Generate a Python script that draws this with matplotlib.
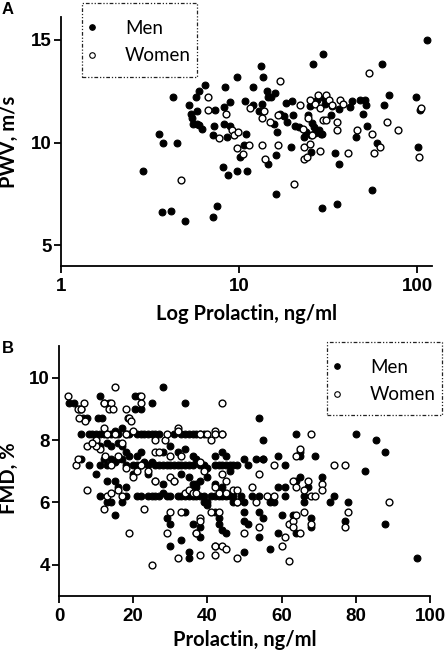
import matplotlib
matplotlib.use('Agg')
import matplotlib.pyplot as plt
from matplotlib.lines import Line2D
from matplotlib.patches import Rectangle

# ---------------- Panel A data (PWV vs prolactin, log x) ----------------
a_men_x = [2.88, 3.57, 3.76, 3.68, 4.13, 4.24, 4.47, 4.97, 5.26, 5.35, 5.42, 5.54, 5.73, 5.83,
           5.98, 5.83, 5.98, 6.17, 6.44, 7.11, 7.17, 7.24, 7.33, 7.55, 8.09, 8.24, 8.27, 8.34,
           8.53, 8.71, 8.83, 8.90, 9.70, 9.79, 10.1, 10.7, 10.8, 10.95, 11.1, 11.9, 12.0, 13.0,
           13.3, 13.6, 13.4, 14.3, 14.6, 15.1, 15.9, 15.7, 16.1, 16.1, 16.4, 14.6, 17.0, 17.9,
           18.4, 18.5, 19.5, 19.8, 20.0, 20.6, 21.6, 23.2, 23.6, 24.5, 24.9, 25.3, 25.3, 25.9,
           25.6, 26.2, 26.7, 27.3, 27.9, 28.8, 29.1, 29.5, 29.3, 30.0, 30.4, 32.7, 33.2, 34.6,
           35.4, 36.2, 36.6, 41.7, 43.0, 45.4, 47.8, 49.9, 51.0, 51.7, 52.1, 55.6, 59.3, 63.3,
           64.7, 69.0, 98.7, 100.4, 104.0, 114.0]
a_men_y = [8.61, 10.40, 10.0, 6.60, 6.68, 12.2, 10.0, 6.2, 11.8, 11.4, 11.17, 10.92, 12.2, 11.52,
           12.5, 10.92, 10.84, 10.68, 12.78, 6.39, 10.36, 10.79, 11.57, 6.91, 8.79, 10.92, 11.73, 12.69,
           10.28, 8.41, 11.97, 10.79, 13.19, 8.61, 9.3, 9.87, 12.02, 10.4, 8.61, 12.7, 11.8, 11.52,
           13.7, 13.19, 11.89, 12.5, 12.2, 12.2, 12.4, 10.89, 9.39, 7.49, 10.52, 8.98, 11.4, 11.28,
           11.93, 11.0, 9.79, 12.02, 11.33, 10.79, 10.76, 10.28, 10.52, 11.33, 11.76, 10.36, 9.55, 13.8,
           10.95, 10.76, 10.47, 12.06, 10.6, 10.4, 10.4, 14.3, 6.8, 12.18, 11.86, 11.33, 11.76, 9.5,
           7.0, 8.98, 11.65, 11.73, 12.02, 10.28, 12.06, 11.4, 12.09, 11.81, 10.79, 7.69, 10.0, 13.8,
           11.8, 12.3, 12.2, 9.79, 11.6, 15.0]
a_women_x = [4.72, 6.73, 6.73, 7.73, 8.45, 9.09, 9.30, 9.91, 9.79, 10.5, 11.3, 11.5, 13.4, 13.8,
             13.4, 14.0, 14.9, 16.6, 16.6, 17.0, 20.2, 22.0, 22.8, 23.0, 23.2, 24.0, 24.5, 24.9,
             25.1, 25.6, 26.7, 27.6, 28.3, 28.5, 29.5, 30.8, 30.8, 31.8, 33.2, 35.4, 35.4, 36.9,
             38.2, 41.1, 45.8, 53.3, 55.6, 57.3, 61.4, 67.6, 77.6, 101.7, 104.9]
a_women_y = [8.2, 12.2, 11.6, 10.21, 11.4, 10.6, 10.36, 10.52, 9.71, 9.42, 9.87, 11.7, 11.17, 11.52,
             9.9, 9.22, 11.0, 11.33, 9.9, 13.0, 8.0, 11.81, 10.68, 9.79, 9.22, 9.3, 11.21, 12.09,
             9.95, 10.36, 11.89, 12.33, 9.6, 11.7, 11.08, 12.33, 11.08, 12.06, 11.81, 11.0, 10.6, 12.06,
             11.86, 9.5, 10.6, 13.4, 10.4, 9.5, 9.79, 11.0, 10.6, 9.3, 11.7]

# ---------------- Panel B data (FMD vs prolactin) ----------------
b_men_x = [2.8, 4.0, 5.5, 6.0, 6.6, 7.5, 10.5, 11.5, 11.0, 12.0, 13.5, 20.5, 21.5, 20.5, 22.0, 25.0, 28.0, 34.0,
           6, 8, 9, 10, 11, 12, 13, 14, 15, 16, 17, 18, 19, 21, 22, 23, 24, 25, 26, 27, 31, 33, 34, 35, 36, 37, 38, 39, 44,
           10, 11, 13, 14, 16, 17, 18, 19, 21, 22, 23, 25, 28, 30, 32, 34, 36, 37, 42, 44, 45,
           6, 8, 11, 12, 13, 14, 15, 16, 17, 18, 20, 21, 22, 24, 26, 27, 28, 29, 30, 31, 32, 33, 34, 35, 36, 38, 39, 40,
           42, 43, 44, 45, 46, 47, 48, 50, 51, 53, 55,
           10, 13, 15, 16, 18, 20, 24, 26, 28, 31, 33, 35, 37, 38, 40, 42, 44,
           11, 13, 14, 17, 18, 21, 22, 24, 25, 26, 27, 28, 29, 30, 32, 33, 34, 35, 36, 37, 38, 39, 40, 41, 42, 43, 44, 45,
           46, 47, 49, 50, 52, 54, 57,
           15, 29, 30, 34, 36, 37, 38, 35, 35, 30, 33, 42, 43, 44, 45, 42, 43, 50, 50, 51, 50, 54, 55, 54, 57, 59, 60,
           61, 61, 59, 59, 61, 58, 55, 54, 55, 63, 64, 64, 65, 66, 66, 67, 68, 68, 64, 65, 65, 69, 71, 73, 74, 77, 78,
           80, 82.5, 85.5, 88, 88, 96.5, 48, 46, 47, 38, 39, 40, 36, 37]
b_men_y = [9.2, 9.2, 9.0, 9.0, 8.7, 8.7, 8.7, 8.7, 9.4, 9.2, 9.2, 9.4, 9.4, 9.0, 9.0, 9.2, 9.7, 9.2,
           8.2, 8.2, 8.2, 8.2, 8.2, 8.2, 8.2, 8.2, 8.3, 8.2, 8.4, 8.2, 8.2, 8.2, 8.2, 8.2, 8.2, 8.2, 8.2, 8.2, 8.2, 8.2, 8.2, 8.2, 8.2, 8.2, 8.2, 8.2, 8.2,
           7.9, 7.8, 7.9, 7.8, 7.9, 7.8, 7.6, 7.5, 7.5, 7.6, 7.3, 7.3, 7.6, 7.8, 7.6, 7.7, 7.5, 7.4, 7.5, 7.6, 7.5,
           7.4, 7.2, 7.2, 7.4, 7.2, 7.4, 7.3, 7.4, 7.4, 7.2, 7.2, 7.2, 7.2, 7.2, 7.2, 7.2, 7.2, 7.2, 7.2, 7.2, 7.2, 7.2, 7.2, 7.2, 7.2, 7.2, 7.2, 7.1,
           7.2, 7.2, 7.2, 7.2, 7.2, 7.2, 7.2, 7.4, 7.2, 7.4, 7.4,
           6.9, 6.7, 6.7, 6.5, 6.5, 6.9, 6.9, 6.7, 6.6, 6.7, 6.9, 6.8, 6.6, 6.7, 6.8, 6.6, 6.5,
           6.2, 6.0, 6.0, 6.0, 6.2, 6.2, 6.2, 6.2, 6.2, 6.2, 6.2, 6.3, 6.2, 6.2, 6.2, 6.2, 6.2, 6.2, 6.2, 6.2, 6.2, 6.2, 6.0, 6.2, 6.2, 6.2, 6.2, 6.2,
           6.2, 6.0, 6.2, 6.0, 6.2, 6.2, 6.0,
           5.6, 5.5, 5.3, 5.7, 5.3, 5.0, 4.9, 4.4, 4.2, 4.6, 4.8, 4.6, 5.3, 5.1, 5.0, 5.7, 5.5, 5.7, 5.4, 5.3, 4.4, 5.7, 5.5, 4.9, 4.5, 5.0, 5.6,
           6.5, 6.2, 6.5, 7.5, 7.2, 6.0, 8.0, 8.7, 7.4, 5.6, 5.0, 6.7, 6.8, 6.0, 6.2, 6.5, 5.2, 5.5, 8.2, 7.5, 7.6, 7.5, 6.8, 6.0, 6.2, 5.4, 6.0,
           8.2, 7.0, 8.0, 7.6, 5.3, 4.2, 6.0, 7.0, 6.2, 5.2, 6.0, 5.9, 6.6, 6.5]
b_women_x = [2.3, 5.0, 6.0, 6.8, 5.5, 7.0, 4.5, 5.0, 7.5, 7.5, 12, 14, 13.5, 14.5, 15, 12, 13, 15, 18, 18.5,
             19, 20, 19.5, 22, 22, 12, 13, 14, 17, 19, 21, 20, 18, 14, 16, 11, 12.5, 18, 17, 23,
             24, 25, 26, 26, 27, 28.5, 29, 30, 30, 31, 30, 29, 32, 32, 32, 33, 33, 34, 35, 36,
             37, 37, 38, 38, 38, 38, 38, 39, 40, 41, 41, 42, 42, 42, 42, 42, 43, 43, 44, 44,
             44, 44, 45, 45, 45, 47, 48, 48, 48, 50, 52, 53, 54, 54, 56, 58, 58, 60, 61, 62,
             62, 63, 63, 63, 64, 64, 64, 65, 65, 66, 66, 67, 68, 68, 68, 69, 71, 71, 74, 77,
             77, 78, 89, 10, 10, 9, 16, 22, 26]
b_women_y = [9.4, 9.0, 9.0, 9.2, 8.7, 8.6, 7.2, 7.4, 7.8, 6.4, 9.2, 9.2, 9.0, 9.0, 9.7, 8.4, 8.2, 8.2, 9.0, 8.7,
             8.7, 8.3, 8.6, 9.4, 9.2, 5.8, 6.2, 6.3, 6.2, 5.0, 7.0, 6.8, 7.1, 7.2, 7.5, 7.7, 7.5, 8.2, 7.9, 5.8,
             7.0, 4.0, 8.0, 7.6, 7.6, 8.0, 8.2, 7.5, 6.8, 6.7, 5.7, 5.0, 8.4, 8.3, 4.2, 7.5, 5.7, 6.3, 6.4, 6.3,
             5.0, 6.3, 5.5, 5.4, 4.3, 7.3, 8.2, 7.0, 8.2, 5.7, 8.0, 8.3, 8.2, 6.5, 4.6, 4.3, 5.7, 6.3, 8.2, 9.2,
             6.9, 4.6, 6.7, 4.5, 6.3, 6.4, 6.4, 4.2, 6.0, 5.0, 6.5, 6.0, 5.2, 6.9, 6.2, 7.2, 6.2, 4.6, 4.9, 5.3,
             4.1, 5.4, 5.2, 6.7, 6.5, 7.5, 5.6, 7.7, 5.0, 5.7, 6.4, 6.7, 8.2, 6.2, 5.3, 6.2, 6.6, 6.4, 7.2, 7.2,
             5.2, 5.7, 6.0, 8.0, 7.8, 7.9, 6.4, 7.2, 6.7]

a_xticks = [1, 10, 100]
a_yticks = [5, 10, 15]
b_xticks = [0, 20, 40, 60, 80, 100]
b_yticks = [4, 6, 8, 10]
series_labels = ['Men', 'Women']

W, H = 446, 655
fig = plt.figure(figsize=(W / 100, H / 100), dpi=100)

TICKFONT = dict(family='Liberation Sans', weight='bold', size=13.5)
LABELFONT = dict(family='Lato', weight='bold', size=14.5)
LEGFONT = dict(family='Lato', size=13.5)
MS = 24


def style(ax):
    for s in ['top', 'right']:
        ax.spines[s].set_visible(False)
    for s in ['left', 'bottom']:
        ax.spines[s].set_linewidth(1.3)
    ax.tick_params(axis='both', which='major', length=5, width=1.3, direction='out')
    ax.tick_params(axis='y', pad=1.5)
    ax.tick_params(axis='x', pad=3.5)
    ax.tick_params(axis='both', which='minor', length=0)
    for lab in ax.get_xticklabels() + ax.get_yticklabels():
        lab.set_fontfamily(TICKFONT['family'])
        lab.set_fontweight('bold')
        lab.set_fontsize(TICKFONT['size'])


def add_legend(ax, bx, by, bw=115, bh=74):
    handles = [Line2D([], [], ls='none', marker='o', ms=4, mfc='black', mec='black', mew=0.8),
               Line2D([], [], ls='none', marker='o', ms=4, mfc='white', mec='black', mew=0.8)]
    fs_px = LEGFONT['size'] * 100 / 72
    hl = 0.6
    left = bx + 10 - hl * fs_px / 2
    leg = ax.legend(handles, series_labels, loc='center left',
                    bbox_to_anchor=(left / W, 1 - (by + 39) / H), bbox_transform=fig.transFigure,
                    borderaxespad=0, borderpad=0, prop=LEGFONT, handlelength=hl,
                    handletextpad=1.45, labelspacing=0.55, frameon=False)
    rect = Rectangle((bx / W, 1 - (by + bh) / H), bw / W, bh / H, transform=fig.transFigure,
                     fill=False, edgecolor='#222222', linewidth=0.9,
                     linestyle=(0, (3, 1.5, 1, 1.5, 1, 1.5)))
    fig.patches.append(rect)
    return leg


# ---------- Panel A ----------
axA = fig.add_axes([61 / W, 1 - 266 / H, 371 / W, 249 / H])
axA.scatter(a_men_x, a_men_y, s=MS, c='black', edgecolors='black', linewidths=0.8, zorder=3)
axA.scatter(a_women_x, a_women_y, s=MS, c='white', edgecolors='black', linewidths=1.0, zorder=3)
axA.set_xscale('log')
axA.set_xlim(1, 121)
axA.set_ylim(4, 16.1)
axA.set_xticks(a_xticks)
axA.set_xticklabels([str(t) for t in a_xticks])
axA.set_yticks(a_yticks)
axA.set_yticklabels([str(t) for t in a_yticks])
axA.minorticks_off()
style(axA)
axA.set_xlabel('Log Prolactin, ng/ml', **LABELFONT)
axA.set_ylabel('PWV, m/s', **LABELFONT)
axA.xaxis.set_label_coords(0.5, -0.152)
axA.yaxis.set_label_coords(-0.113, 0.5)
add_legend(axA, 82, 3)

# ---------- Panel B ----------
axB = fig.add_axes([59 / W, 1 - 595.7 / H, 371 / W, 250 / H])
axB.scatter(b_men_x, b_men_y, s=MS, c='black', edgecolors='black', linewidths=0.8, zorder=3)
axB.scatter(b_women_x, b_women_y, s=MS, c='white', edgecolors='black', linewidths=1.0, zorder=3)
axB.set_xlim(0, 100)
axB.set_ylim(3, 11.03)
axB.set_xticks(b_xticks)
axB.set_xticklabels([str(t) for t in b_xticks])
axB.set_yticks(b_yticks)
axB.set_yticklabels([str(t) for t in b_yticks])
style(axB)
axB.set_xlabel('Prolactin, ng/ml', **LABELFONT)
axB.set_ylabel('FMD, %', **LABELFONT)
axB.xaxis.set_label_coords(0.5, -0.138)
axB.yaxis.set_label_coords(-0.108, 0.47)
add_legend(axB, 327, 342, bh=73)

fig.text(2 / W, 1 - 2 / H, 'A', ha='left', va='top', family='Liberation Sans', weight='bold', size=12)
fig.text(2 / W, 1 - 341 / H, 'B', ha='left', va='top', family='Liberation Sans', weight='bold', size=12)

fig.savefig('out.png', dpi=100)
